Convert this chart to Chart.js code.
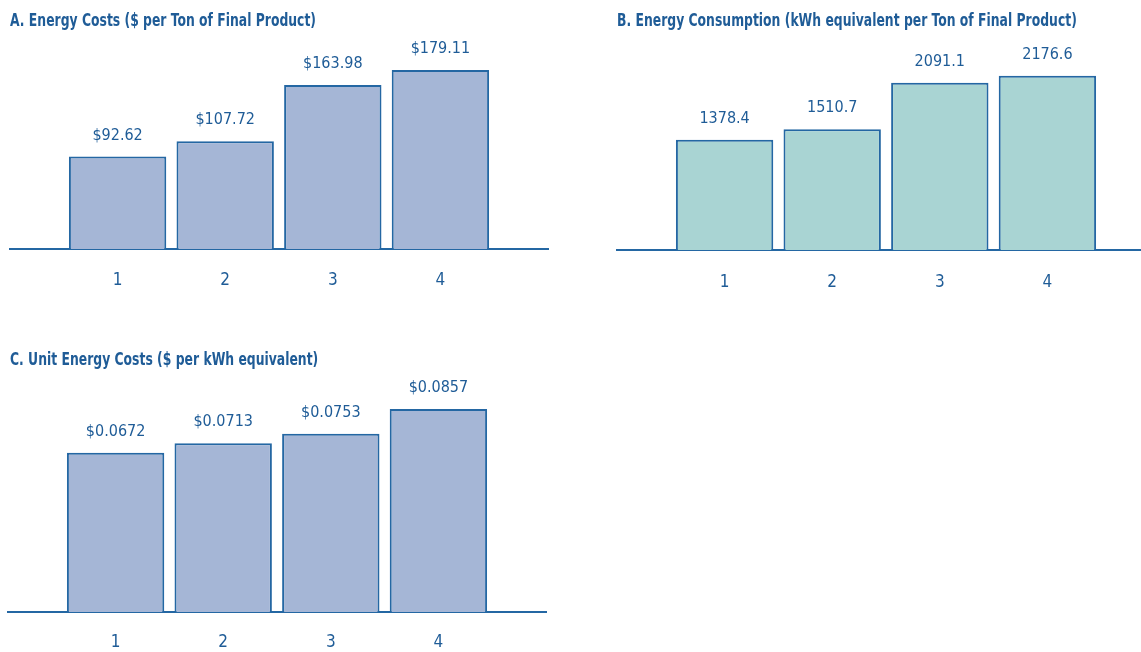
<!DOCTYPE html>
<html>
<head>
<meta charset="utf-8">
<script src="https://cdn.jsdelivr.net/npm/chart.js@4.4.1/dist/chart.umd.min.js"></script>
<style>
  html, body { margin: 0; padding: 0; background: #ffffff; overflow: hidden; width: 1141px; height: 652px; }
  .panel { position: absolute; }
  #pa { left: 0; top: 0; }
  #pb { left: 607px; top: 0; }
  #pc { left: 0; top: 342px; }
</style>
</head>
<body>
<div class="panel" id="pa"><canvas id="ca" width="560" height="313"></canvas></div>
<div class="panel" id="pb"><canvas id="cb" width="548" height="316"></canvas></div>
<div class="panel" id="pc"><canvas id="cc" width="560" height="332"></canvas></div>
<script>
// Period categories shown on each x axis
const categories = ['1', '2', '3', '4'];

// A. Energy costs, $ per ton of final product
const costPerTon = [92.62, 107.72, 163.98, 179.11];
// B. Energy consumption, kWh equivalent per ton of final product
const kwhPerTon = [1378.4, 1510.7, 2091.1, 2176.6];
// C. Unit energy costs, $ per kWh equivalent
const costPerKwh = [0.0672, 0.0713, 0.0753, 0.0857];

const titles = [
  'A. Energy Costs ($ per Ton of Final Product)',
  'B. Energy Consumption (kWh equivalent per Ton of Final Product)',
  'C. Unit Energy Costs ($ per kWh equivalent)'
];

const FONT = '"DejaVu Sans Condensed", "Liberation Sans Narrow", "Liberation Sans", sans-serif';
const TEXT = '#1f5c97';
const EDGE = '#2467a3';
const BLUE_FILL = '#a5b6d6';
const TEAL_FILL = '#a9d4d3';

// Panel heading, set in a tightly condensed bold face
const panelTitle = {
  id: 'panelTitle',
  afterDraw(chart, args, opts) {
    const ctx = chart.ctx;
    ctx.save();
    ctx.font = 'bold 17px ' + FONT;
    ctx.fillStyle = TEXT;
    ctx.textAlign = 'left';
    ctx.textBaseline = 'alphabetic';
    ctx.translate(opts.x, opts.y);
    ctx.scale(0.81, 1);
    ctx.fillText(opts.text, 0, 0);
    ctx.restore();
  }
};

// Writes each bar's value just above it
const valueLabels = {
  id: 'valueLabels',
  afterDatasetsDraw(chart, args, opts) {
    const ctx = chart.ctx;
    const meta = chart.getDatasetMeta(0);
    const values = chart.data.datasets[0].data;
    ctx.save();
    ctx.font = '16px ' + FONT;
    ctx.fillStyle = TEXT;
    ctx.textAlign = 'center';
    ctx.textBaseline = 'middle';
    meta.data.forEach((bar, i) => {
      ctx.fillText(opts.format(values[i].y), bar.x, bar.y - opts.offset);
    });
    ctx.restore();
  }
};

function makeChart(id, cfg) {
  const points = cfg.values.map((v, i) => ({ x: i + 1, y: v }));
  return new Chart(document.getElementById(id), {
    type: 'bar',
    data: {
      datasets: [{
        data: points,
        backgroundColor: cfg.fill,
        borderColor: EDGE,
        borderWidth: 2,
        barPercentage: 0.905,
        categoryPercentage: 1
      }]
    },
    plugins: [panelTitle, valueLabels],
    options: {
      responsive: false,
      animation: false,
      events: [],
      layout: { padding: { left: cfg.left, right: cfg.right, top: cfg.top, bottom: 0 } },
      plugins: {
        legend: { display: false },
        tooltip: { enabled: false },
        title: { display: false },
        panelTitle: { text: cfg.title, x: 10, y: cfg.titleY },
        valueLabels: { format: cfg.format, offset: 21 }
      },
      scales: {
        x: {
          type: 'linear',
          min: 0,
          max: 5,
          offset: false,
          grid: { display: false, drawTicks: false },
          border: { display: true, color: EDGE, width: 2 },
          // only the four periods carry a tick label
          afterBuildTicks: (scale) => {
            scale.ticks = scale.ticks.filter((t) => t.value >= 1 && t.value <= categories.length);
          },
          ticks: {
            stepSize: 1,
            padding: cfg.tickPad,
            color: TEXT,
            font: { family: FONT, size: 17, lineHeight: '20px' },
            callback: (v) => categories[v - 1]
          }
        },
        y: {
          display: false,
          min: 0,
          max: cfg.max
        }
      }
    }
  });
}

makeChart('ca', {
  title: titles[0], titleY: 25.5, values: costPerTon, fill: BLUE_FILL,
  left: 10, right: 12, top: 49, tickPad: 22, max: 200,
  format: (v) => '$' + v.toFixed(2)
});
makeChart('cb', {
  title: titles[1], titleY: 25.5, values: kwhPerTon, fill: TEAL_FILL,
  left: 10, right: 0, top: 50, tickPad: 23, max: 2500,
  format: (v) => v.toFixed(1)
});
makeChart('cc', {
  title: titles[2], titleY: 23, values: costPerKwh, fill: BLUE_FILL,
  left: 8, right: 14, top: 33.2, tickPad: 21, max: 0.1,
  format: (v) => '$' + v.toFixed(4)
});
</script>
</body>
</html>
